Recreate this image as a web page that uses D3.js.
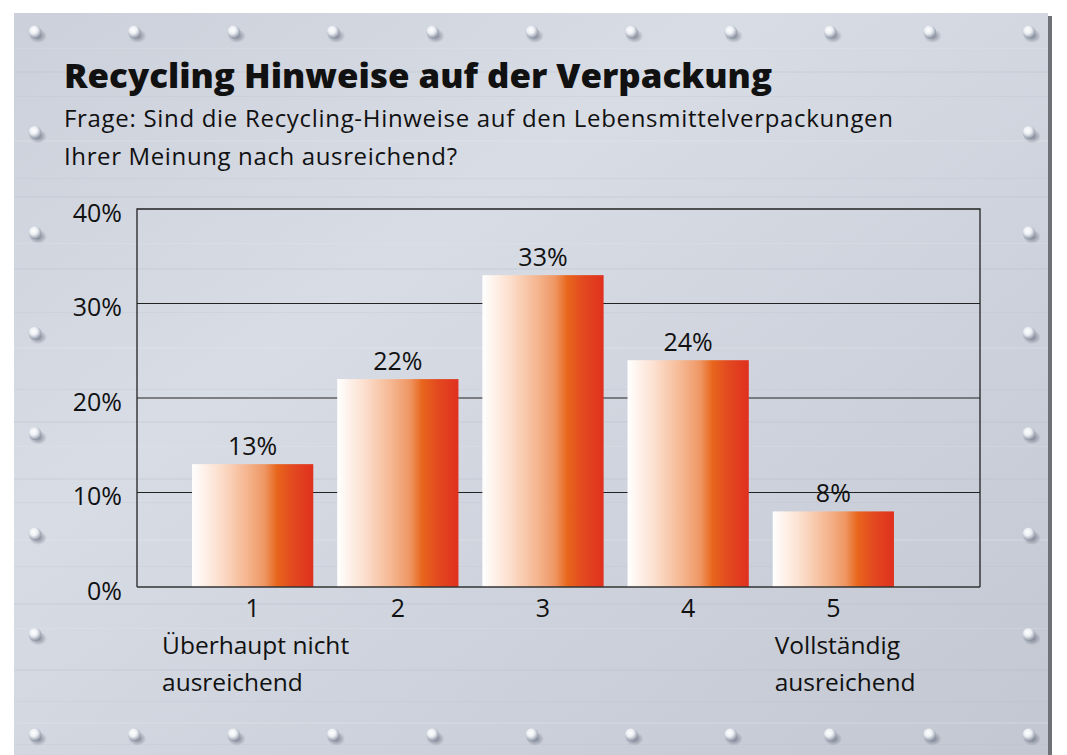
<!DOCTYPE html>
<html><head><meta charset="utf-8">
<script src="https://cdn.jsdelivr.net/npm/d3@7"></script>
<style>
html,body{margin:0;padding:0;background:#fff;}
svg{display:block;}
</style></head>
<body>
<svg id="chart" width="1067" height="755"></svg>
<script>
const categories = ["1","2","3","4","5"];
const values = [13, 22, 33, 24, 8];
const valueLabels = ["13%","22%","33%","24%","8%"];
const yTicks = [0, 10, 20, 30, 40];
const endLabels = [
  {cat: "1", lines: ["Überhaupt nicht", "ausreichend"]},
  {cat: "5", lines: ["Vollständig", "ausreichend"]}
];
const title = "Recycling Hinweise auf der Verpackung";
const subtitle = ["Frage: Sind die Recycling-Hinweise auf den Lebensmittelverpackungen",
                  "Ihrer Meinung nach ausreichend?"];

const svg = d3.select("#chart");
const defs = svg.append("defs");
const W = 1067, H = 755;
const FONT = "'Open Sans', sans-serif";

// Panel background
const pg = defs.append("linearGradient").attr("id","panelGrad").attr("x1","0").attr("y1","0").attr("x2","1").attr("y2","1");
[["0%","#cbd0da"],["35%","#d8dce5"],["65%","#cdd2dc"],["100%","#c2c7d2"]].forEach(s=>pg.append("stop").attr("offset",s[0]).attr("stop-color",s[1]));
const bg = defs.append("linearGradient").attr("id","barGrad").attr("x1","0").attr("y1","0").attr("x2","1").attr("y2","0");
[["0%","#ffffff"],["22%","#fce0cf"],["45%","#f5b690"],["60%","#ef9663"],["70%","#e8661c"],["82%","#e34b20"],["100%","#e0301e"]].forEach(s=>bg.append("stop").attr("offset",s[0]).attr("stop-color",s[1]));
const rg = defs.append("radialGradient").attr("id","rivet").attr("cx","0.4").attr("cy","0.35").attr("r","0.7");
[["0%","#ffffff"],["40%","#edf0f4"],["100%","#7f8899"]].forEach(s=>rg.append("stop").attr("offset",s[0]).attr("stop-color",s[1]));
const rs = defs.append("radialGradient").attr("id","rivetShadow");
[["0%","rgba(50,58,75,0.55)"],["100%","rgba(50,58,75,0)"]].forEach(s=>rs.append("stop").attr("offset",s[0]).attr("stop-color",s[1]));

// shadow + panel
svg.append("rect").attr("x",1046).attr("y",16).attr("width",6).attr("height",H-16).attr("fill","#6f7176");
svg.append("rect").attr("x",14).attr("y",13).attr("width",1034).attr("height",H-13).attr("fill","url(#panelGrad)");
// brushed streaks (subtle)
const streakYs = [48,71,96,140,178,196,243,268,312,347,389,421,446,478,502,539,566,603,628,669,701,722,744];
const sg = svg.append("g").attr("opacity",0.18);
streakYs.forEach((y,i)=>{
  sg.append("rect").attr("x",14).attr("y",y).attr("width",1034).attr("height",1+(i%2))
    .attr("fill", i%3===0 ? "#eef0f4" : "#b3b9c6");
});

// rivets
const rivX = d3.range(11).map(i=>35 + i*99.4);
const rivY = d3.range(8).map(i=>32 + i*100.4);
const rivets = [];
rivX.forEach(x=>{rivets.push([x,rivY[0]]); rivets.push([x,rivY[7]]);});
rivY.slice(1,7).forEach(y=>{rivets.push([rivX[0],y]); rivets.push([rivX[10],y]);});
const rv = svg.append("g");
rivets.forEach(([x,y])=>{
  rv.append("ellipse").attr("cx",x+3).attr("cy",y+4).attr("rx",9).attr("ry",7).attr("fill","url(#rivetShadow)");
  rv.append("circle").attr("cx",x).attr("cy",y).attr("r",6.5).attr("fill","url(#rivet)");
});

// Title
svg.append("text").attr("x",64).attr("y",88).attr("font-family",FONT).attr("font-weight",800)
  .attr("font-size",33).attr("fill","#111").attr("textLength",708).attr("lengthAdjust","spacingAndGlyphs").text(title);
const subLens = [829, 393];
svg.selectAll("text.sub").data(subtitle).join("text").attr("class","sub")
  .attr("x",64).attr("y",(d,i)=>127+i*38).attr("font-family",FONT)
  .attr("font-size",24).attr("fill","#111")
  .attr("textLength",(d,i)=>subLens[i]).attr("lengthAdjust","spacing").text(d=>d);

// Scales
const plot = {left:137, right:980, top:209, bottom:587};
const y = d3.scaleLinear().domain([0,40]).range([plot.bottom, plot.top]);
const x = d3.scaleBand().domain(categories).range([180, 906]).paddingInner(0.165).paddingOuter(0.083);

// gridlines
svg.append("g").selectAll("line").data(yTicks.filter(t=>t>0 && t<40)).join("line")
  .attr("x1",plot.left).attr("x2",plot.right).attr("y1",d=>y(d)).attr("y2",d=>y(d))
  .attr("stroke","#222").attr("stroke-width",1);
// frame
svg.append("path").attr("d",`M${plot.left},${plot.bottom}V${plot.top}H${plot.right}V${plot.bottom}`)
  .attr("fill","none").attr("stroke","#222").attr("stroke-width",1.3);

// bars
svg.append("g").selectAll("rect").data(values).join("rect")
  .attr("x",(d,i)=>x(categories[i])).attr("width",x.bandwidth())
  .attr("y",d=>y(d)).attr("height",d=>y(0)-y(d)).attr("fill","url(#barGrad)");

// baseline
svg.append("line").attr("x1",plot.left).attr("x2",plot.right).attr("y1",plot.bottom).attr("y2",plot.bottom)
  .attr("stroke","#333").attr("stroke-width",1.6);

// value labels
svg.append("g").selectAll("text").data(values).join("text")
  .attr("x",(d,i)=>x(categories[i])+x.bandwidth()/2).attr("y",d=>y(d)-9)
  .attr("text-anchor","middle").attr("font-family",FONT).attr("font-size",25).attr("fill","#111")
  .text((d,i)=>valueLabels[i]);

// y axis labels
const yAxis = d3.axisLeft(y).tickValues(yTicks).tickFormat(d=>d+"%").tickSize(0).tickPadding(15);
const ya = svg.append("g").attr("transform",`translate(${plot.left},4)`).call(yAxis);
ya.select(".domain").remove();
ya.selectAll("text").attr("font-family",FONT).attr("font-size",25).attr("fill","#111");

// x axis labels
const xAxis = d3.axisBottom(x).tickSize(0).tickPadding(12);
const xa = svg.append("g").attr("transform",`translate(0,${plot.bottom})`).call(xAxis);
xa.select(".domain").remove();
xa.selectAll("text").attr("font-family",FONT).attr("font-size",25).attr("fill","#111");

// end labels
endLabels.forEach(e=>{
  const cx = x(e.cat);
  e.lines.forEach((l,i)=>{
    svg.append("text").attr("x", e.cat==="1" ? cx-30 : cx+2).attr("y",654+i*37)
      .attr("font-family",FONT).attr("font-size",24.5).attr("fill","#111").text(l);
  });
});
</script>
</body></html>
